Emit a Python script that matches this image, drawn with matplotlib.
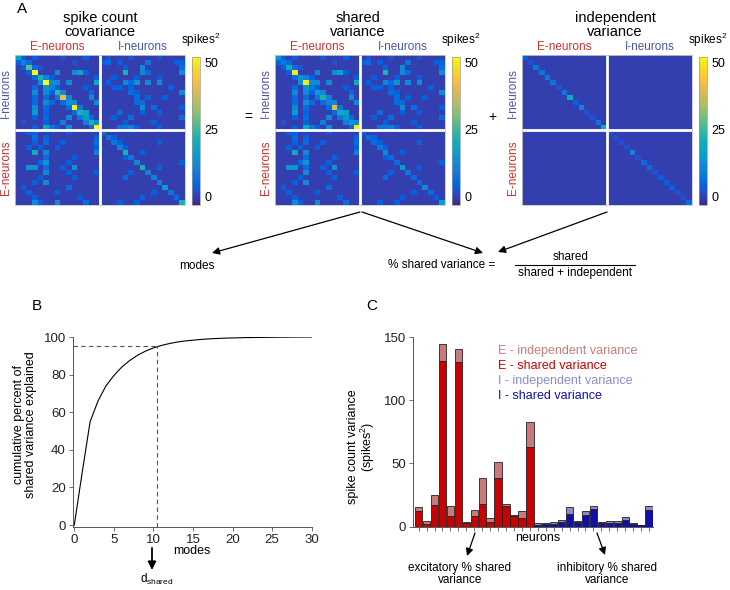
import numpy as np
import matplotlib
matplotlib.use("Agg")
import matplotlib.pyplot as plt
from matplotlib.colors import LinearSegmentedColormap

plt.rcParams['font.family'] = ['Liberation Sans', 'DejaVu Sans']
plt.rcParams['mathtext.fontset'] = 'custom'
plt.rcParams['mathtext.rm'] = 'Liberation Sans'
plt.rcParams['mathtext.it'] = 'Liberation Sans:italic'

# ---- panel A data ----
# shared covariance matrix, one char per cell: value = int(char, 36) * 2 (spikes^2)
# columns 0-14 E-neurons, 15-29 I-neurons
shared_rows = [
    "720200001000200" + "010001000010000",
    "243000000010000" + "230200004000022",
    "02a310000000000" + "000020060000003",
    "002p00060069200" + "0000b0063000006",
    "000375200000002" + "002000200020000",
    "00006p66060000a" + "020063706060000",
    "000307420000200" + "002202000000200",
    "000606286000030" + "000003200000006",
    "00030304b500060" + "000000302002000",
    "000306303560006" + "000000330000000",
    "0006030003k4000" + "000000060300002",
    "00080200003a900" + "000300020020000",
    "000203000604730" + "002003000000003",
    "010002005000576" + "000020000200000",
    "00020a42060003p" + "000445200020000",
    "002200000100000" + "200000000000000",
    "000302000000002" + "032000000000000",
    "000203002000003" + "003200000020000",
    "002020020000002" + "000420000000000",
    "000a06000000005" + "000060020000000",
    "000003000020000" + "000023000000000",
    "000037000200000" + "000000300000002",
    "007703002070000" + "000000080020000",
    "000006000200002" + "000002004000000",
    "000020000020000" + "000030000300000",
    "000206000000000" + "000000000030000",
    "020000000300000" + "000000000006000",
    "002000020000000" + "000000000200300",
    "000200000002000" + "000000020000020",
    "000620060000300" + "000200200000008",
]
# independent variance (diagonal only), same coding
indep_diag = "21444414a25114a" + "111151331222113"

# ---- panel B data ----
modes = list(range(31))
cum_pct = [0, 28, 55, 66, 74, 79.5, 84, 87.5, 90.3, 92.5, 94.2, 95.5, 96.5, 97.3,
           97.9, 98.3, 98.7, 99.0, 99.2, 99.4, 99.5, 99.6, 99.7, 99.75, 99.8,
           99.85, 99.9, 99.93, 99.96, 99.98, 100]
d_shared = 10.4
d_pct = 95

# ---- panel C data ----
e_total = [15.4, 4, 25, 145, 16, 141, 3.7, 13.3, 38.7, 6.9, 51.5, 17.8, 9.3, 12.5, 82.5]
e_shared = [12, 1.6, 16.7, 131.5, 8.7, 130.5, 2.6, 8.5, 17.8, 3.7, 38.7, 16.2, 8.5, 6.4, 62.9]
i_total = [2.9, 2.6, 3.2, 4.8, 15.1, 4.2, 12, 16.4, 3.2, 4, 4, 7.2, 2.7, 1.3, 16.4]
i_shared = [0.8, 1.9, 1.9, 3.7, 10, 3.2, 8.8, 13.8, 2.7, 2.7, 2.7, 5.3, 1.6, 1, 12.7]

shared = np.array([[int(c, 36) * 2 for c in r] for r in shared_rows], float)
indep = np.diag([int(c, 36) * 2 for c in indep_diag]).astype(float)
cov = shared + indep

# parula-like colormap (MATLAB default), sampled entries of the 64-step table
parula_pts = [
    (0, (0.2081, 0.1663, 0.5292)), (2, (0.2123, 0.2138, 0.6270)),
    (4, (0.1959, 0.2645, 0.7279)), (6, (0.1253, 0.3242, 0.8303)),
    (8, (0.0117, 0.3875, 0.8820)), (11, (0.0329, 0.4430, 0.8720)),
    (15, (0.0779, 0.5040, 0.8384)), (19, (0.0488, 0.5772, 0.8228)),
    (23, (0.0231, 0.6418, 0.7913)), (27, (0.0590, 0.6838, 0.7254)),
    (31, (0.1801, 0.7177, 0.6424)), (35, (0.3482, 0.7424, 0.5473)),
    (39, (0.5300, 0.7491, 0.4661)), (43, (0.6834, 0.7435, 0.4044)),
    (47, (0.8185, 0.7327, 0.3498)), (51, (0.9450, 0.7261, 0.2886)),
    (55, (0.9955, 0.7861, 0.1967)), (59, (0.9626, 0.8705, 0.1309)),
    (63, (0.9763, 0.9831, 0.0538)),
]
parula = LinearSegmentedColormap.from_list(
    'parula', [(i / 63, c) for i, c in parula_pts])

W, H = 730, 590
fig = plt.figure(figsize=(W / 100, H / 100), dpi=100)

ERED = '#D03030'
IBLUE = '#4A55A5'


def draw_matrix(M, left):
    ax = fig.add_axes([left / W, 1 - 205 / H, 170 / W, 150 / H])
    im = ax.imshow(M, cmap=parula, vmin=-3, vmax=52, aspect='auto',
                   interpolation='nearest')
    ax.axhline(14.5, color='white', lw=2)
    ax.axvline(14.5, color='white', lw=2)
    ax.set_xticks([])
    ax.set_yticks([])
    for s in ax.spines.values():
        s.set_color('#c8c8c8')
        s.set_linewidth(0.6)
    cax = fig.add_axes([(left + 177) / W, 1 - 205 / H, 8 / W, 148 / H])
    cb = fig.colorbar(im, cax=cax, ticks=[0, 25, 50])
    cb.outline.set_linewidth(0.5)
    cb.outline.set_edgecolor('#999999')
    cax.tick_params(labelsize=9, length=0, pad=3)


draw_matrix(cov, 15)
draw_matrix(shared, 275)
draw_matrix(indep, 522)

# ---- panel B ----
axb = fig.add_axes([72.7 / W, 1 - 527 / H, 239 / W, 190 / H])
axb.plot(modes, cum_pct, color='black', lw=0.8)
axb.plot([-0.2, d_shared], [d_pct, d_pct], color='#555555', lw=0.8, ls=(0, (4, 3)))
axb.plot([d_shared, d_shared], [-1, d_pct], color='#555555', lw=0.8, ls=(0, (4, 3)))
axb.set_xlim(-0.2, 30)
axb.set_ylim(-1, 100)
axb.set_xticks(range(0, 31, 5))
axb.set_yticks(range(0, 101, 20))
axb.set_xlabel('modes', fontsize=9)
axb.xaxis.set_label_coords(0.5, -0.095)
axb.set_ylabel('cumulative percent of\nshared variance explained', fontsize=9,
               linespacing=1.0)
axb.yaxis.set_label_coords(-0.15, 0.54)

# ---- panel C ----
axc = fig.add_axes([413.3 / W, 1 - 526.5 / H, 239.7 / W, 189.2 / H])
xe = np.arange(1, 16)
xi = np.arange(16, 31)
e_ind = np.array(e_total) - np.array(e_shared)
i_ind = np.array(i_total) - np.array(i_shared)
axc.bar(xe, e_shared, width=0.92, color='#CC0000', edgecolor='#202020', lw=0.6)
axc.bar(xe, e_ind, bottom=e_shared, width=0.92, color='#C97B7B',
        edgecolor='#202020', lw=0.6)
axc.bar(xi, i_shared, width=0.92, color='#1010A8', edgecolor='#202020', lw=0.6)
axc.bar(xi, i_ind, bottom=i_shared, width=0.92, color='#8C8CC8',
        edgecolor='#202020', lw=0.6)
axc.set_xlim(0.33, 30.5)
axc.set_ylim(0, 150)
axc.set_xticks(range(1, 31))
axc.set_xticklabels([])
axc.set_yticks([0, 50, 100, 150])
axc.set_xlabel('neurons', fontsize=9)
axc.xaxis.set_label_coords(0.52, -0.03)
axc.set_ylabel('spike count variance\n(spikes$^2$)', fontsize=9, linespacing=1.0)
axc.yaxis.set_label_coords(-0.15, 0.42)

for ax in (axb, axc):
    for s in ('top', 'right'):
        ax.spines[s].set_visible(False)
    for s in ('left', 'bottom'):
        ax.spines[s].set_color('#555555')
        ax.spines[s].set_linewidth(0.7)
    ax.tick_params(labelsize=9.5, direction='out', length=3, width=0.6,
                   color='#555555', labelcolor='#222222', pad=2)
axc.tick_params(axis='x', length=3)

# ---- overlay for labels and arrows (pixel coordinates) ----
ov = fig.add_axes([0, 0, 1, 1], facecolor='none')
ov.set_xlim(0, W)
ov.set_ylim(H, 0)
ov.axis('off')


def txt(x, y, s, **kw):
    kw.setdefault('fontsize', 8.5)
    kw.setdefault('ha', 'center')
    kw.setdefault('va', 'center')
    ov.text(x, y, s, **kw)


def arrow(x0, y0, x1, y1, lw=0.9, ms=11):
    ov.annotate('', xy=(x1, y1), xytext=(x0, y0),
                arrowprops=dict(arrowstyle='-|>', color='black', lw=lw,
                                mutation_scale=ms, shrinkA=0, shrinkB=0))


txt(22, 9, 'A', fontsize=11)
txt(37, 306, 'B', fontsize=11)
txt(372, 306, 'C', fontsize=11)

titles = [(100, 'spike count\ncovariance', 15), (358, 'shared\nvariance', 275),
          (615, 'independent\nvariance', 522)]
for cx, t, left in titles:
    txt(cx, 25, t, fontsize=10.5, linespacing=1.05)
    txt(left + 42, 47, 'E-neurons', color=ERED)
    txt(left + 128, 47, 'I-neurons', color=IBLUE)
    txt(left - 9, 93, 'I-neurons', color=IBLUE, rotation=90)
    txt(left - 9, 168, 'E-neurons', color=ERED, rotation=90)
    txt(left + 186, 40, 'spikes$^2$', fontsize=8.5)

txt(248, 117, '=', fontsize=10)
txt(492, 117, '+', fontsize=10)

arrow(360, 212, 212, 253)
arrow(362, 212, 483, 253)
arrow(607, 212, 498, 252)
txt(215, 266, 'modes', ha='right')
txt(498, 265, '% shared variance = ', ha='right')
txt(571, 257, 'shared')
ov.plot([515, 635], [265, 265], color='black', lw=0.8)
txt(575, 273, 'shared + independent')

# panel B d_shared arrow
arrow(152, 548, 152, 570, lw=1.3, ms=12)
txt(157, 579, r'd$_{\mathrm{shared}}$')

# panel C legend texts
leg = [('E - independent variance', '#C97B7B'), ('E - shared variance', '#CC0000'),
       ('I - independent variance', '#8C8CC8'), ('I - shared variance', '#1010A8')]
for k, (s, c) in enumerate(leg):
    txt(498, 351 + k * 15, s, color=c, ha='left', fontsize=9)

arrow(475, 533, 467, 556)
arrow(597, 533, 605, 555)
txt(460, 574, 'excitatory % shared\nvariance', linespacing=1.05)
txt(607, 574, 'inhibitory % shared\nvariance', linespacing=1.05)

fig.savefig('out.png', dpi=100)
